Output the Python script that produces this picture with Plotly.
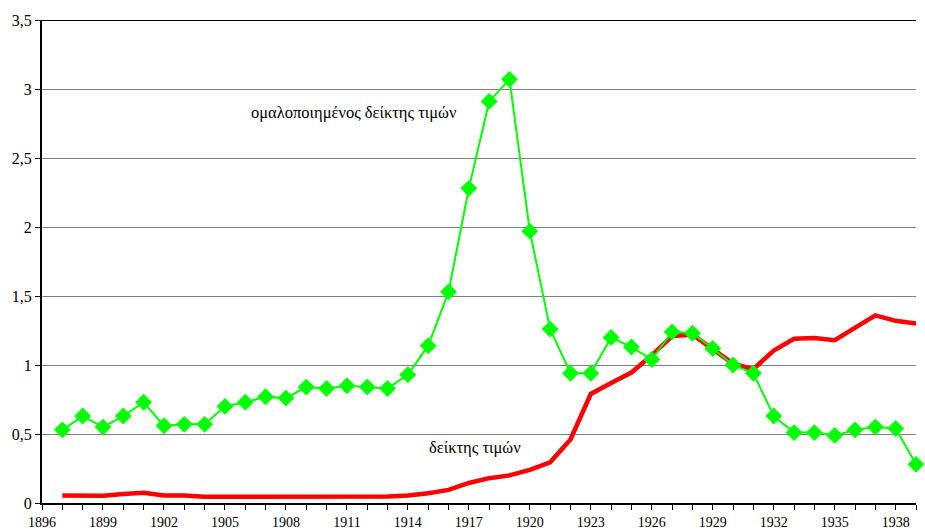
import plotly.graph_objects as go

years = list(range(1897, 1940))

normalized_index = [0.53, 0.63, 0.55, 0.63, 0.73, 0.56, 0.57, 0.57, 0.70, 0.73,
                    0.77, 0.76, 0.84, 0.83, 0.85, 0.84, 0.83, 0.93, 1.14, 1.53,
                    2.28, 2.91, 3.07, 1.97, 1.26, 0.94, 0.94, 1.20, 1.13, 1.04,
                    1.24, 1.23, 1.12, 1.00, 0.94, 0.63, 0.51, 0.51, 0.49, 0.53,
                    0.55, 0.54, 0.28]

price_index = [0.055, 0.057, 0.052, 0.065, 0.075, 0.055, 0.055, 0.045, 0.045, 0.047,
               0.048, 0.048, 0.050, 0.048, 0.048, 0.048, 0.048, 0.055, 0.070, 0.095,
               0.145, 0.18, 0.20, 0.24, 0.295, 0.46, 0.79, 0.87, 0.945, 1.07,
               1.21, 1.22, 1.115, 1.01, 0.97, 1.105, 1.19, 1.195, 1.18, 1.27,
               1.36, 1.32, 1.30]

label_norm = "ομαλοποιημένος δείκτης τιμών"
label_price = "δείκτης τιμών"

font_family = "Liberation Serif, Times New Roman, serif"

fig = go.Figure()
fig.add_trace(go.Scatter(x=years, y=price_index, mode="lines",
                         line=dict(color="#FF0000", width=4.5),
                         cliponaxis=False, hoverinfo="skip",
                         name=label_price, showlegend=False))
fig.add_trace(go.Scatter(x=years, y=normalized_index, mode="lines+markers",
                         line=dict(color="#00FF00", width=2),
                         marker=dict(symbol="diamond", size=13, color="#00FF00"),
                         cliponaxis=False, hoverinfo="skip",
                         name=label_norm, showlegend=False))

fig.add_annotation(x=1911.36, y=2.833, text=label_norm, showarrow=False,
                   font=dict(family=font_family, size=16.5, color="black"))
fig.add_annotation(x=1917.3, y=0.40, text=label_price, showarrow=False,
                   font=dict(family=font_family, size=16.5, color="black"))

fig.add_shape(type="line", xref="paper", yref="y", x0=0, x1=1, y0=3.5, y1=3.5,
              line=dict(color="black", width=2))

fig.update_xaxes(range=[1896, 1939], tickmode="linear", tick0=1896, dtick=3,
                 ticks="outside", ticklen=5, tickwidth=1, tickcolor="black",
                 minor=dict(ticks="outside", dtick=1, tick0=1896, ticklen=5,
                            tickcolor="black", showgrid=False),
                 showline=True, linecolor="black", linewidth=2,
                 showgrid=False, zeroline=False, automargin=False,
                 tickfont=dict(family=font_family, size=14, color="black"))
fig.update_yaxes(range=[0, 3.5], tickmode="linear", tick0=0, dtick=0.5,
                 ticks="outside", ticklen=5, tickcolor="black",
                 showline=True, linecolor="black", linewidth=2,
                 showgrid=True, gridcolor="#808080", gridwidth=1,
                 zeroline=False, automargin=False,
                 tickfont=dict(family=font_family, size=16, color="black"))

fig.update_layout(width=925, height=531, separators=",.",
                  margin=dict(l=42, r=9, t=20, b=28),
                  plot_bgcolor="white", paper_bgcolor="white",
                  font=dict(family=font_family, color="black"))

fig.write_html("out.html",
               config={"displayModeBar": False, "staticPlot": True},
               post_script="document.body.style.margin='0';"
                           "document.documentElement.style.overflow='hidden';")
